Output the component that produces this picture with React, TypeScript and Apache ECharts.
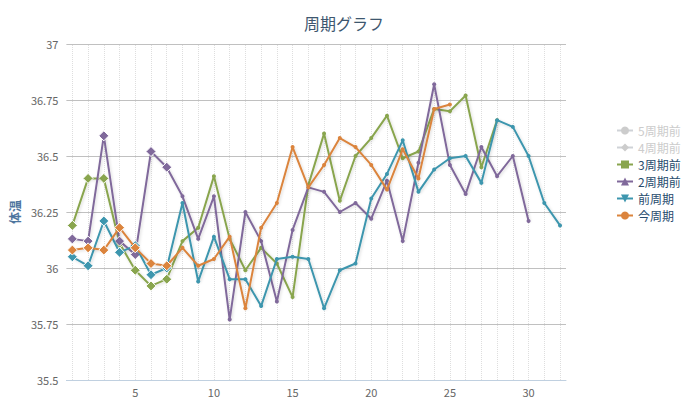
import React, { useEffect, useRef } from "react";
import * as echarts from "echarts";

const days = [1, 2, 3, 4, 5, 6, 7, 8, 9, 10, 11, 12, 13, 14, 15, 16, 17, 18, 19, 20, 21, 22, 23, 24, 25, 26, 27, 28, 29, 30, 31, 32];
const xLabelValues = [5, 10, 15, 20, 25, 30];

const seriesNames = ["5周期前", "4周期前", "3周期前", "2周期前", "前周期", "今周期"];

const week5: number[] = [];
const week4: number[] = [];
const week3 = [36.19, 36.4, 36.4, 36.11, 35.99, 35.92, 35.95, 36.12, 36.18, 36.41, 36.13, 35.99, 36.09, 36.02, 35.87, 36.37, 36.6, 36.3, 36.5, 36.58, 36.68, 36.49, 36.52, 36.71, 36.7, 36.77, 36.45, 36.66];
const week2 = [36.13, 36.12, 36.59, 36.12, 36.06, 36.52, 36.45, 36.32, 36.13, 36.32, 35.77, 36.25, 36.12, 35.85, 36.17, 36.36, 36.34, 36.25, 36.29, 36.22, 36.39, 36.12, 36.47, 36.82, 36.46, 36.33, 36.54, 36.41, 36.5, 36.21];
const week1 = [36.05, 36.01, 36.21, 36.07, 36.1, 35.97, 36.0, 36.29, 35.94, 36.14, 35.95, 35.95, 35.83, 36.04, 36.05, 36.04, 35.82, 35.99, 36.02, 36.31, 36.42, 36.57, 36.34, 36.44, 36.49, 36.5, 36.38, 36.66, 36.63, 36.5, 36.29, 36.19];
const week0 = [36.08, 36.09, 36.08, 36.18, 36.09, 36.02, 36.01, 36.09, 36.01, 36.04, 36.14, 35.82, 36.18, 36.29, 36.54, 36.36, 36.46, 36.58, 36.54, 36.46, 36.35, 36.53, 36.4, 36.71, 36.73];

const colors = ["#4572A7", "#AA4643", "#89A54E", "#80699B", "#3D96AE", "#DB843D"];
const symbols = ["circle", "diamond", "rect", "triangle", "path://M0,0L10,0L5,8Z", "circle"];
const allData = [week5, week4, week3, week2, week1, week0];

const FONT = '"Noto Sans CJK JP", "Noto Sans", sans-serif';

export default function App() {
  const ref = useRef<HTMLDivElement>(null);
  useEffect(() => {
    if (!ref.current) return;
    const chart = echarts.init(ref.current, null, { renderer: "svg" });
    const lineSeries = seriesNames.map((name, si) => ({
      name,
      type: "line",
      color: colors[si],
      symbol: symbols[si],
      symbolSize: 8,
      z: 3 + si,
      lineStyle: {
        width: 2,
        color: colors[si],
        shadowColor: "rgba(0,0,0,0.15)",
        shadowBlur: 3,
        shadowOffsetX: 1,
        shadowOffsetY: 1,
      },
      itemStyle: { color: colors[si] },
      data: allData[si].map((v, i) =>
        i < 7
          ? {
              value: [days[i], v],
              symbol: "diamond",
              symbolSize: 10,
              itemStyle: { color: colors[si], borderColor: "#ffffff", borderWidth: 1 },
            }
          : { value: [days[i], v], symbol: "circle", symbolSize: 4 }
      ),
    }));
    const gridSeries = {
      name: "_grid",
      type: "line",
      data: [],
      silent: true,
      z: 1,
      markLine: {
        silent: true,
        symbol: ["none", "none"],
        label: { show: false },
        lineStyle: { type: "dotted", color: "#dedede", width: 1 },
        data: days.map((d) => ({ xAxis: d })),
        animation: false,
      },
    };
    chart.setOption({
      animation: false,
      textStyle: { fontFamily: FONT },
      title: {
        text: "周期グラフ",
        left: "center",
        top: 10,
        textStyle: { fontFamily: FONT, fontSize: 16, fontWeight: "normal", color: "#3E576F" },
      },
      legend: {
        orient: "vertical",
        left: 611,
        top: 119,
        itemWidth: 16,
        itemHeight: 10,
        itemGap: 4,
        data: seriesNames,
        selected: { "5周期前": false, "4周期前": false },
        inactiveColor: "#cccccc",
        textStyle: { fontFamily: FONT, fontSize: 12, color: "#274b6d", lineHeight: 13 },
      },
      grid: { left: 66, right: 122, top: 44, bottom: 19 },
      xAxis: {
        type: "value",
        min: 0.62,
        max: 32.38,
        axisLine: { show: true, lineStyle: { color: "#C0D0E0", width: 1 } },
        axisTick: { show: false },
        splitLine: { show: false },
        axisLabel: {
          customValues: xLabelValues,
          color: "#666666",
          fontSize: 11,
          margin: 6,
          fontFamily: FONT,
        },
      },
      yAxis: {
        type: "value",
        min: 35.5,
        max: 37,
        interval: 0.25,
        name: "体温",
        nameLocation: "middle",
        nameGap: 45,
        nameRotate: 90,
        nameTextStyle: { color: "#4d759e", fontWeight: "bold", fontSize: 12, fontFamily: FONT },
        axisLine: { show: false },
        axisTick: { show: false },
        splitLine: { show: true, lineStyle: { color: "#C0C0C0", width: 1 } },
        axisLabel: { color: "#666666", fontSize: 11, margin: 8, fontFamily: FONT },
      },
      series: [gridSeries, ...lineSeries],
    });
    return () => chart.dispose();
  }, []);
  return <div ref={ref} style={{ position: "absolute", left: 0, top: 0, width: 688, height: 399 }} />;
}
